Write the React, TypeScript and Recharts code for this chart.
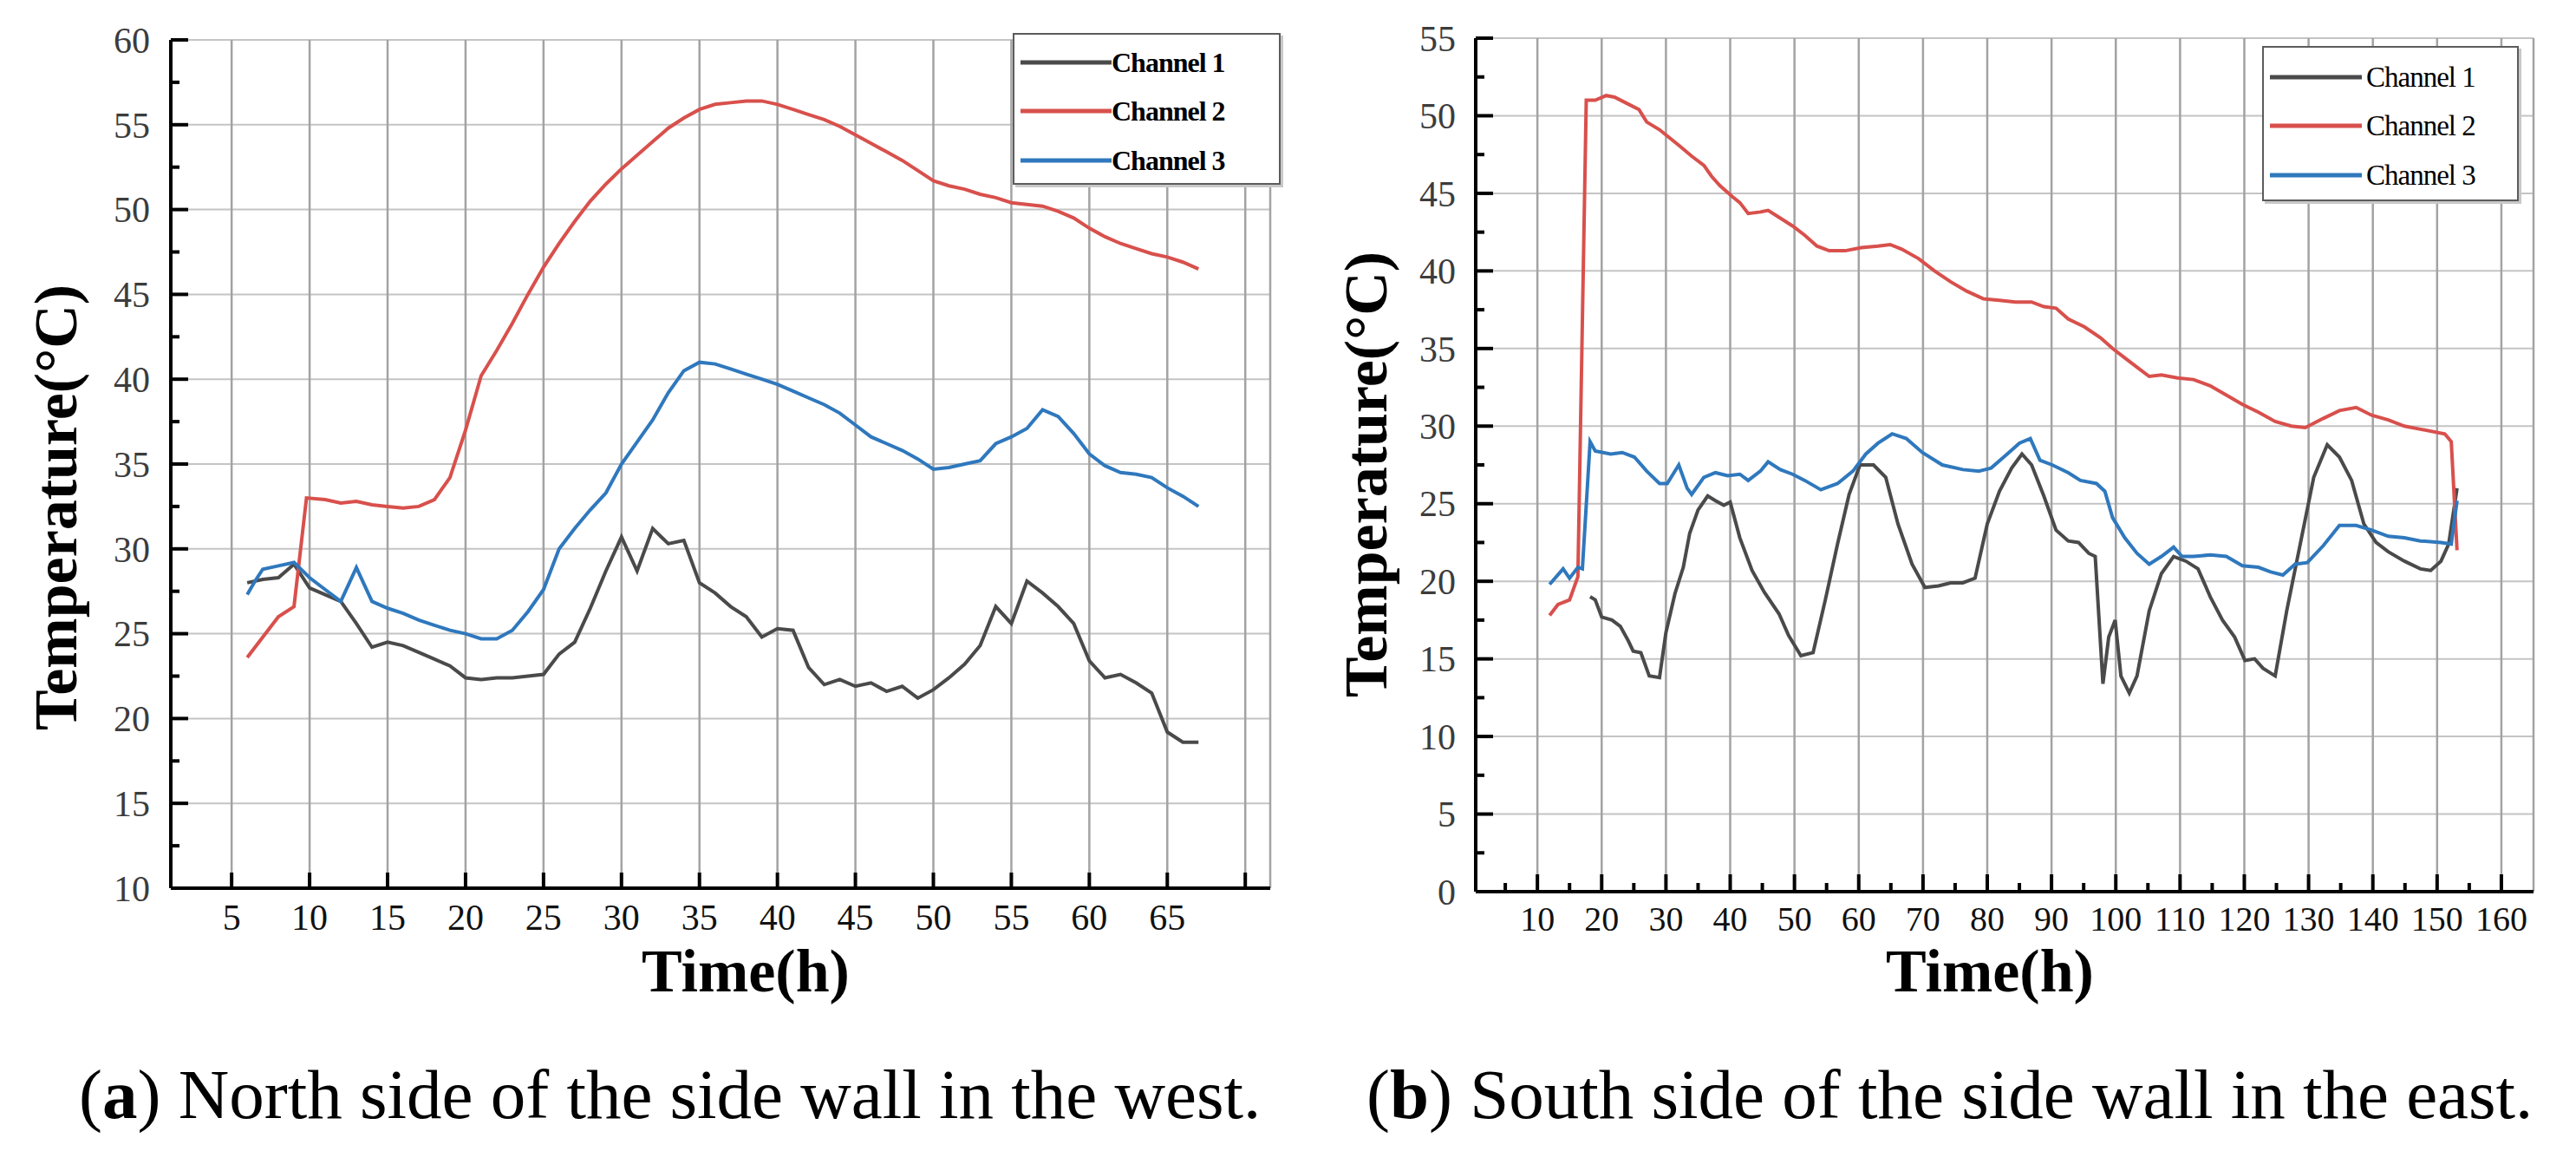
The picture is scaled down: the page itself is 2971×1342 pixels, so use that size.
import React from 'react';
import { LineChart, Line, XAxis, YAxis, CartesianGrid, Legend } from 'recharts';

const SERIF = "'Liberation Serif', 'Times New Roman', serif";

// ---------- shared ----------
const channelNames = ['Channel 1', 'Channel 2', 'Channel 3'];
const channelColors = ['#4a4a4a', '#d8504c', '#2f78bd'];

// ---------- (a) North side, west wall ----------
const northXTicks = [5, 10, 15, 20, 25, 30, 35, 40, 45, 50, 55, 60, 65, 70];
const northYTicks = [10, 12.5, 15, 17.5, 20, 22.5, 25, 27.5, 30, 32.5, 35, 37.5, 40, 42.5, 45, 47.5, 50, 52.5, 55, 57.5, 60];

const northHours1 = [6, 7, 8, 9, 10, 11, 12, 13, 14, 15, 16, 17, 18, 19, 20, 21, 22, 23, 24, 25, 26, 27, 28, 29, 30, 31, 32, 33, 34, 35, 36, 37, 38, 39, 40, 41, 42, 43, 44, 45, 46, 47, 48, 49, 50, 51, 52, 53, 54, 55, 56, 57, 58, 59, 60, 61, 62, 63, 64, 65, 66, 67];
const northTemp1 = [28.0, 28.2, 28.3, 29.1, 27.7, 27.3, 26.9, 25.6, 24.2, 24.5, 24.3, 23.9, 23.5, 23.1, 22.4, 22.3, 22.4, 22.4, 22.5, 22.6, 23.8, 24.5, 26.5, 28.7, 30.7, 28.7, 31.2, 30.3, 30.5, 28.0, 27.4, 26.6, 26.0, 24.8, 25.3, 25.2, 23.0, 22.0, 22.3, 21.9, 22.1, 21.6, 21.9, 21.2, 21.7, 22.4, 23.2, 24.3, 26.6, 25.6, 28.1, 27.4, 26.6, 25.6, 23.4, 22.4, 22.6, 22.1, 21.5, 19.2, 18.6, 18.6];

const northHours2 = [6, 7, 8, 9, 9.8, 11, 12, 13, 14, 15, 16, 17, 18, 19, 20, 21, 22, 23, 24, 25, 26, 27, 28, 29, 30, 31, 32, 33, 34, 35, 36, 37, 38, 39, 40, 41, 42, 43, 44, 45, 46, 47, 48, 49, 50, 51, 52, 53, 54, 55, 56, 57, 58, 59, 60, 61, 62, 63, 64, 65, 66, 67];
const northTemp2 = [23.6, 24.8, 26.0, 26.6, 33.0, 32.9, 32.7, 32.8, 32.6, 32.5, 32.4, 32.5, 32.9, 34.2, 37.0, 40.2, 41.7, 43.3, 45.0, 46.6, 48.0, 49.3, 50.5, 51.5, 52.4, 53.2, 54.0, 54.8, 55.4, 55.9, 56.2, 56.3, 56.4, 56.4, 56.2, 55.9, 55.6, 55.3, 54.9, 54.4, 53.9, 53.4, 52.9, 52.3, 51.7, 51.4, 51.2, 50.9, 50.7, 50.4, 50.3, 50.2, 49.9, 49.5, 48.9, 48.4, 48.0, 47.7, 47.4, 47.2, 46.9, 46.5];

const northHours3 = [6, 6.5, 7, 8, 9, 10, 11, 12, 13, 14, 15, 16, 17, 18, 19, 20, 21, 22, 23, 24, 25, 26, 27, 28, 29, 30, 31, 32, 33, 34, 35, 36, 37, 38, 39, 40, 41, 42, 43, 44, 45, 46, 47, 48, 49, 50, 51, 52, 53, 54, 55, 56, 57, 58, 59, 60, 61, 62, 63, 64, 65, 66, 67];
const northTemp3 = [27.3, 28.1, 28.8, 29.0, 29.2, 28.3, 27.6, 26.9, 28.9, 26.9, 26.5, 26.2, 25.8, 25.5, 25.2, 25.0, 24.7, 24.7, 25.2, 26.3, 27.6, 30.0, 31.2, 32.3, 33.3, 35.0, 36.3, 37.6, 39.2, 40.5, 41.0, 40.9, 40.6, 40.3, 40.0, 39.7, 39.3, 38.9, 38.5, 38.0, 37.3, 36.6, 36.2, 35.8, 35.3, 34.7, 34.8, 35.0, 35.2, 36.2, 36.6, 37.1, 38.2, 37.8, 36.8, 35.6, 34.9, 34.5, 34.4, 34.2, 33.6, 33.1, 32.5];

// ---------- (b) South side, east wall ----------
const southXTicks = [5, 10, 15, 20, 25, 30, 35, 40, 45, 50, 55, 60, 65, 70, 75, 80, 85, 90, 95, 100, 105, 110, 115, 120, 125, 130, 135, 140, 145, 150, 155, 160];
const southYTicks = [0, 2.5, 5, 7.5, 10, 12.5, 15, 17.5, 20, 22.5, 25, 27.5, 30, 32.5, 35, 37.5, 40, 42.5, 45, 47.5, 50, 52.5, 55];

const southHours1 = [18.2, 19, 20, 21.6, 22.9, 24.1, 24.9, 26.1, 27.4, 29, 30, 31.4, 32.7, 33.7, 35, 36.5, 37.7, 39, 40, 41.5, 43.4, 45.3, 47.6, 49.1, 51, 52.9, 54.8, 56.7, 58.5, 60.2, 62.3, 64.2, 66.1, 68.3, 70.3, 72.4, 74.3, 76.2, 78.1, 80, 81.9, 83.8, 85.4, 86.9, 88.8, 90.7, 92.6, 94.2, 95.8, 96.8, 98, 98.9, 99.9, 100.8, 102.1, 103.3, 105.2, 107.1, 109, 110.9, 112.8, 114.7, 116.6, 118.5, 120.1, 121.6, 122.9, 124.8, 126.6, 128.8, 130.8, 132.9, 134.8, 136.7, 138.6, 140.5, 142.4, 144.9, 147.4, 149, 150.6, 151.8, 153.1];
const southTemp1 = [19.0, 18.8, 17.7, 17.5, 17.1, 16.2, 15.5, 15.4, 13.9, 13.8, 16.7, 19.2, 20.9, 23.1, 24.6, 25.5, 25.2, 24.9, 25.1, 22.8, 20.7, 19.3, 17.9, 16.5, 15.2, 15.4, 18.8, 22.4, 25.6, 27.5, 27.5, 26.7, 23.7, 21.1, 19.6, 19.7, 19.9, 19.9, 20.2, 23.7, 25.8, 27.3, 28.2, 27.5, 25.5, 23.3, 22.6, 22.5, 21.8, 21.6, 13.4, 16.4, 17.5, 13.9, 12.8, 13.9, 18.1, 20.5, 21.6, 21.3, 20.8, 19.0, 17.5, 16.4, 14.9, 15.0, 14.4, 13.9, 18.1, 22.6, 26.7, 28.8, 28.0, 26.5, 23.7, 22.5, 21.9, 21.3, 20.8, 20.7, 21.3, 22.4, 26.0];

const southHours2 = [11.9, 13.2, 15, 16.3, 17.6, 19, 20.7, 22, 23.9, 25.8, 27, 29, 30.2, 32, 34, 35.9, 37.1, 38.4, 40.3, 41.5, 42.8, 44.7, 45.9, 47.8, 49.7, 51.6, 53.5, 55.4, 57.9, 60.4, 63, 64.9, 66.7, 69.3, 71.8, 74.3, 76.8, 79.4, 81.9, 84.4, 86.9, 88.8, 90.7, 92.6, 95.1, 97.6, 99.5, 101.4, 103.3, 105.2, 107.1, 109.6, 112.1, 114.7, 117.2, 119.7, 122.2, 124.8, 127.3, 129.5, 132.3, 134.8, 137.4, 139.8, 142.4, 144.9, 147.4, 151.2, 152.2, 153.1];
const southTemp2 = [17.8, 18.5, 18.8, 20.3, 51.0, 51.0, 51.3, 51.2, 50.8, 50.4, 49.6, 49.1, 48.7, 48.1, 47.4, 46.8, 46.1, 45.5, 44.8, 44.4, 43.7, 43.8, 43.9, 43.4, 42.9, 42.3, 41.6, 41.3, 41.3, 41.5, 41.6, 41.7, 41.4, 40.8, 40.0, 39.3, 38.7, 38.2, 38.1, 38.0, 38.0, 37.7, 37.6, 36.9, 36.4, 35.7, 35.0, 34.4, 33.8, 33.2, 33.3, 33.1, 33.0, 32.6, 32.0, 31.4, 30.9, 30.3, 30.0, 29.9, 30.5, 31.0, 31.2, 30.7, 30.4, 30.0, 29.8, 29.5, 29.0, 22.0];

const southHours3 = [11.9, 14, 15, 16.3, 17, 18.2, 19, 21.4, 23.2, 25.1, 27, 29, 30.2, 32, 33.3, 34, 35.9, 37.7, 39.6, 41.5, 42.8, 44.7, 45.9, 47.8, 49.7, 51.6, 54.1, 56.7, 59.1, 61.1, 63, 65.2, 67.4, 69.9, 73, 76.2, 78.7, 80.6, 83.1, 85, 86.7, 88.2, 90.1, 92.6, 94.5, 97, 98.3, 99.5, 101.4, 103.3, 105.2, 107.1, 109, 110.3, 112.1, 114.7, 117.2, 119.7, 122.2, 124.1, 126, 127.9, 129.8, 132.3, 134.8, 137.4, 139.8, 142.4, 144.9, 147.4, 150.6, 152.2, 153.1];
const southTemp3 = [19.8, 20.8, 20.2, 20.9, 20.8, 29.0, 28.4, 28.2, 28.3, 28.0, 27.1, 26.3, 26.3, 27.5, 26.0, 25.6, 26.7, 27.0, 26.8, 26.9, 26.5, 27.1, 27.7, 27.2, 26.9, 26.5, 25.9, 26.3, 27.1, 28.2, 28.9, 29.5, 29.2, 28.3, 27.5, 27.2, 27.1, 27.3, 28.2, 28.9, 29.2, 27.8, 27.5, 27.0, 26.5, 26.3, 25.8, 24.1, 22.8, 21.8, 21.1, 21.6, 22.2, 21.6, 21.6, 21.7, 21.6, 21.0, 20.9, 20.6, 20.4, 21.1, 21.2, 22.3, 23.6, 23.6, 23.3, 22.9, 22.8, 22.6, 22.5, 22.4, 25.2];

const pair = (hours: number[], temps: number[]) => hours.map((h, i) => ({ h, t: temps[i] }));

// ---------- renderers ----------
type TickCfg = {
  margin: number;
  isMajor: (v: number) => boolean;
  hasLabel: (v: number) => boolean;
  majorLen: number;
  minorLen: number;
  fontSize: number;
  color: string;
};

const makeXTick = (c: TickCfg) => (props: any) => {
  const { x, y, payload, index } = props;
  const v = Number(payload?.value);
  const axisY = y - c.margin;
  const major = c.isMajor(v);
  return (
    <g key={`xt-${index}`}>
      <line x1={x} x2={x} y1={axisY} y2={axisY - (major ? c.majorLen : c.minorLen)} stroke="#000" strokeWidth={4} />
      {major && c.hasLabel(v) ? (
        <text x={x} y={y} dy="0.71em" textAnchor="middle" fontFamily={SERIF} fontSize={c.fontSize} fill={c.color}>
          {v}
        </text>
      ) : null}
    </g>
  );
};

const makeYTick = (c: TickCfg) => (props: any) => {
  const { x, y, payload, index } = props;
  const v = Number(payload?.value);
  const axisX = x + c.margin;
  const major = c.isMajor(v);
  return (
    <g key={`yt-${index}`}>
      <line x1={axisX} x2={axisX + (major ? c.majorLen : c.minorLen)} y1={y} y2={y} stroke="#000" strokeWidth={4} />
      {major && c.hasLabel(v) ? (
        <text x={x} y={y} dy="0.35em" textAnchor="end" fontFamily={SERIF} fontSize={c.fontSize} fill={c.color}>
          {v}
        </text>
      ) : null}
    </g>
  );
};

const makeYTitle = (dx: number, dy: number) => (props: any) => {
  const vb = props?.viewBox ?? { x: 0, y: 0, width: 0, height: 0 };
  const cx = vb.x + dx;
  const cy = vb.y + vb.height / 2 + dy;
  return (
    <text
      x={cx}
      y={cy}
      transform={`rotate(-90, ${cx}, ${cy})`}
      textAnchor="middle"
      dominantBaseline="central"
      fontFamily={SERIF}
      fontWeight={700}
      fontSize={70}
      fill="#000"
    >
      Temperature(°C)
    </text>
  );
};

const makeXTitle = (dx: number, baseline: number) => (props: any) => {
  const vb = props?.viewBox ?? { x: 0, y: 0, width: 0, height: 0 };
  const cx = vb.x + vb.width / 2 + dx;
  return (
    <text x={cx} y={vb.y + baseline} textAnchor="middle" fontFamily={SERIF} fontWeight={700} fontSize={70} fill="#000">
      Time(h)
    </text>
  );
};

type LegendCfg = {
  left: number;
  top: number;
  width: number;
  height: number;
  rows: number[];
  lineX1: number;
  lineX2: number;
  textX: number;
  fontSize: number;
  bold: boolean;
};

const makeLegend = (cfg: LegendCfg) => (props: any) => {
  const payload = props?.payload ?? [];
  return (
    <div
      style={{
        width: cfg.width,
        height: cfg.height,
        boxSizing: 'border-box',
        border: '2px solid #5c5c5c',
        background: '#fff',
        position: 'relative',
        boxShadow: '3px 3px 0 #c8c8c8',
      }}
    >
      {payload.map((e: any, i: number) => (
        <div key={String(e.value)} style={{ position: 'absolute', left: 0, top: cfg.rows[i] - 22, height: 44, width: '100%' }}>
          <svg width={cfg.textX} height={44} style={{ position: 'absolute', left: 0, top: 0 }}>
            <line x1={cfg.lineX1} x2={cfg.lineX2} y1={22} y2={22} stroke={e.color} strokeWidth={5} />
          </svg>
          <span
            style={{
              position: 'absolute',
              left: cfg.textX,
              top: 0,
              lineHeight: '44px',
              fontFamily: SERIF,
              fontSize: cfg.fontSize,
              fontWeight: cfg.bold ? 700 : 400,
              letterSpacing: -1,
              color: '#000',
              whiteSpace: 'nowrap',
            }}
          >
            {e.value}
          </span>
        </div>
      ))}
    </div>
  );
};

type PanelProps = {
  width: number;
  height: number;
  margin: { top: number; right: number; bottom: number; left: number };
  yAxisWidth: number;
  xAxisHeight: number;
  xDomain: [number, number];
  yDomain: [number, number];
  xTicks: number[];
  yTicks: number[];
  xTick: TickCfg;
  yTick: TickCfg;
  vGridShow: (i: number) => boolean;
  yTitle: { dx: number; dy: number };
  xTitle: { dx: number; baseline: number };
  legend: LegendCfg;
  series: { h: number; t: number }[][];
};

const Panel = (p: PanelProps) => {
  const hLine = (lp: any) =>
    lp.index % 2 === 0 ? (
      <line key={`h-${lp.index}`} x1={lp.x1} x2={lp.x2} y1={lp.y1} y2={lp.y2} stroke="#c4c4c4" strokeWidth={2} />
    ) : (
      <g key={`h-${lp.index}`} />
    );
  const vLine = (lp: any) =>
    p.vGridShow(lp.index) ? (
      <line key={`v-${lp.index}`} x1={lp.x1} x2={lp.x2} y1={lp.y1} y2={lp.y2} stroke="#a3a3a3" strokeWidth={2.5} />
    ) : (
      <g key={`v-${lp.index}`} />
    );
  return (
    <LineChart width={p.width} height={p.height} margin={p.margin}>
      <CartesianGrid horizontal={hLine} vertical={vLine} />
      <XAxis
        dataKey="h"
        type="number"
        domain={p.xDomain}
        allowDataOverflow
        ticks={p.xTicks}
        interval={0}
        height={p.xAxisHeight}
        tickSize={0}
        tickMargin={p.xTick.margin}
        tickLine={false}
        axisLine={{ stroke: '#000', strokeWidth: 4 }}
        tick={makeXTick(p.xTick)}
        label={makeXTitle(p.xTitle.dx, p.xTitle.baseline)}
      />
      <XAxis
        xAxisId="top"
        orientation="top"
        type="number"
        domain={p.xDomain}
        allowDataOverflow
        height={0}
        tick={false}
        tickLine={false}
        axisLine={{ stroke: '#1a1a1a', strokeWidth: 4 }}
      />
      <YAxis
        type="number"
        domain={p.yDomain}
        allowDataOverflow
        ticks={p.yTicks}
        interval={0}
        width={p.yAxisWidth}
        tickSize={0}
        tickMargin={p.yTick.margin}
        tickLine={false}
        axisLine={{ stroke: '#000', strokeWidth: 4 }}
        tick={makeYTick(p.yTick)}
        label={makeYTitle(p.yTitle.dx, p.yTitle.dy)}
      />
      <YAxis
        yAxisId="right"
        orientation="right"
        type="number"
        domain={p.yDomain}
        allowDataOverflow
        width={0}
        tick={false}
        tickLine={false}
        axisLine={{ stroke: '#000', strokeWidth: 3 }}
      />
      {p.series.map((d, i) => (
        <Line
          key={channelNames[i]}
          data={d}
          dataKey="t"
          name={channelNames[i]}
          type="linear"
          stroke={channelColors[i]}
          strokeWidth={4}
          dot={false}
          activeDot={false}
          isAnimationActive={false}
        />
      ))}
      <Legend
        layout="vertical"
        align="center"
        verticalAlign="middle"
        wrapperStyle={{ position: 'absolute', left: p.legend.left, top: p.legend.top, width: p.legend.width, height: p.legend.height }}
        content={makeLegend(p.legend)}
      />
    </LineChart>
  );
};

const northSeries = [pair(northHours1, northTemp1), pair(northHours2, northTemp2), pair(northHours3, northTemp3)];
const southSeries = [pair(southHours1, southTemp1), pair(southHours2, southTemp2), pair(southHours3, southTemp3)];

const captionStyle: React.CSSProperties = {
  position: 'absolute',
  top: 1222,
  fontFamily: SERIF,
  fontSize: 81,
  lineHeight: '81px',
  whiteSpace: 'nowrap',
  color: '#000',
};

export default function App() {
  return (
    <div style={{ position: 'absolute', left: 0, top: 0, width: 2971, height: 1342, background: '#fff', overflow: 'hidden' }}>
      <div style={{ position: 'absolute', left: 0, top: 0 }}>
        <Panel
          width={1500}
          height={1200}
          margin={{ top: 46, right: 35, bottom: 0, left: 0 }}
          yAxisWidth={197}
          xAxisHeight={176}
          xDomain={[1.1, 71.6]}
          yDomain={[10, 60]}
          xTicks={northXTicks}
          yTicks={northYTicks}
          xTick={{ margin: 18, isMajor: () => true, hasLabel: (v) => v <= 65, majorLen: 18, minorLen: 10, fontSize: 42, color: '#111' }}
          yTick={{ margin: 24, isMajor: (v) => v % 5 === 0, hasLabel: () => true, majorLen: 20, minorLen: 10, fontSize: 42, color: '#3c3c3c' }}
          vGridShow={() => true}
          yTitle={{ dx: 64, dy: 50 }}
          xTitle={{ dx: 29, baseline: 119 }}
          legend={{ left: 1168, top: 38, width: 309, height: 175, rows: [32, 88, 145], lineX1: 7, lineX2: 112, textX: 112, fontSize: 32, bold: true }}
          series={northSeries}
        />
      </div>
      <div style={{ position: 'absolute', left: 1500, top: 0 }}>
        <Panel
          width={1471}
          height={1200}
          margin={{ top: 44, right: 49, bottom: 0, left: 0 }}
          yAxisWidth={202}
          xAxisHeight={172}
          xDomain={[0.4, 165]}
          yDomain={[0, 55]}
          xTicks={southXTicks}
          yTicks={southYTicks}
          xTick={{ margin: 17, isMajor: (v) => v % 10 === 0, hasLabel: () => true, majorLen: 20, minorLen: 10, fontSize: 40, color: '#111' }}
          yTick={{ margin: 23, isMajor: (v) => v % 5 === 0, hasLabel: () => true, majorLen: 20, minorLen: 10, fontSize: 42, color: '#3c3c3c' }}
          vGridShow={(i) => i % 2 === 1}
          yTitle={{ dx: 75, dy: 11 }}
          xTitle={{ dx: -17, baseline: 115 }}
          legend={{ left: 1109, top: 53, width: 296, height: 179, rows: [34, 90, 147], lineX1: 7, lineX2: 113, textX: 118, fontSize: 33, bold: false }}
          series={southSeries}
        />
      </div>
      <div style={{ ...captionStyle, left: 91 }}>
        (<b>a</b>) North side of the side wall in the west.
      </div>
      <div style={{ ...captionStyle, left: 1576 }}>
        (<b>b</b>) South side of the side wall in the east.
      </div>
    </div>
  );
}
